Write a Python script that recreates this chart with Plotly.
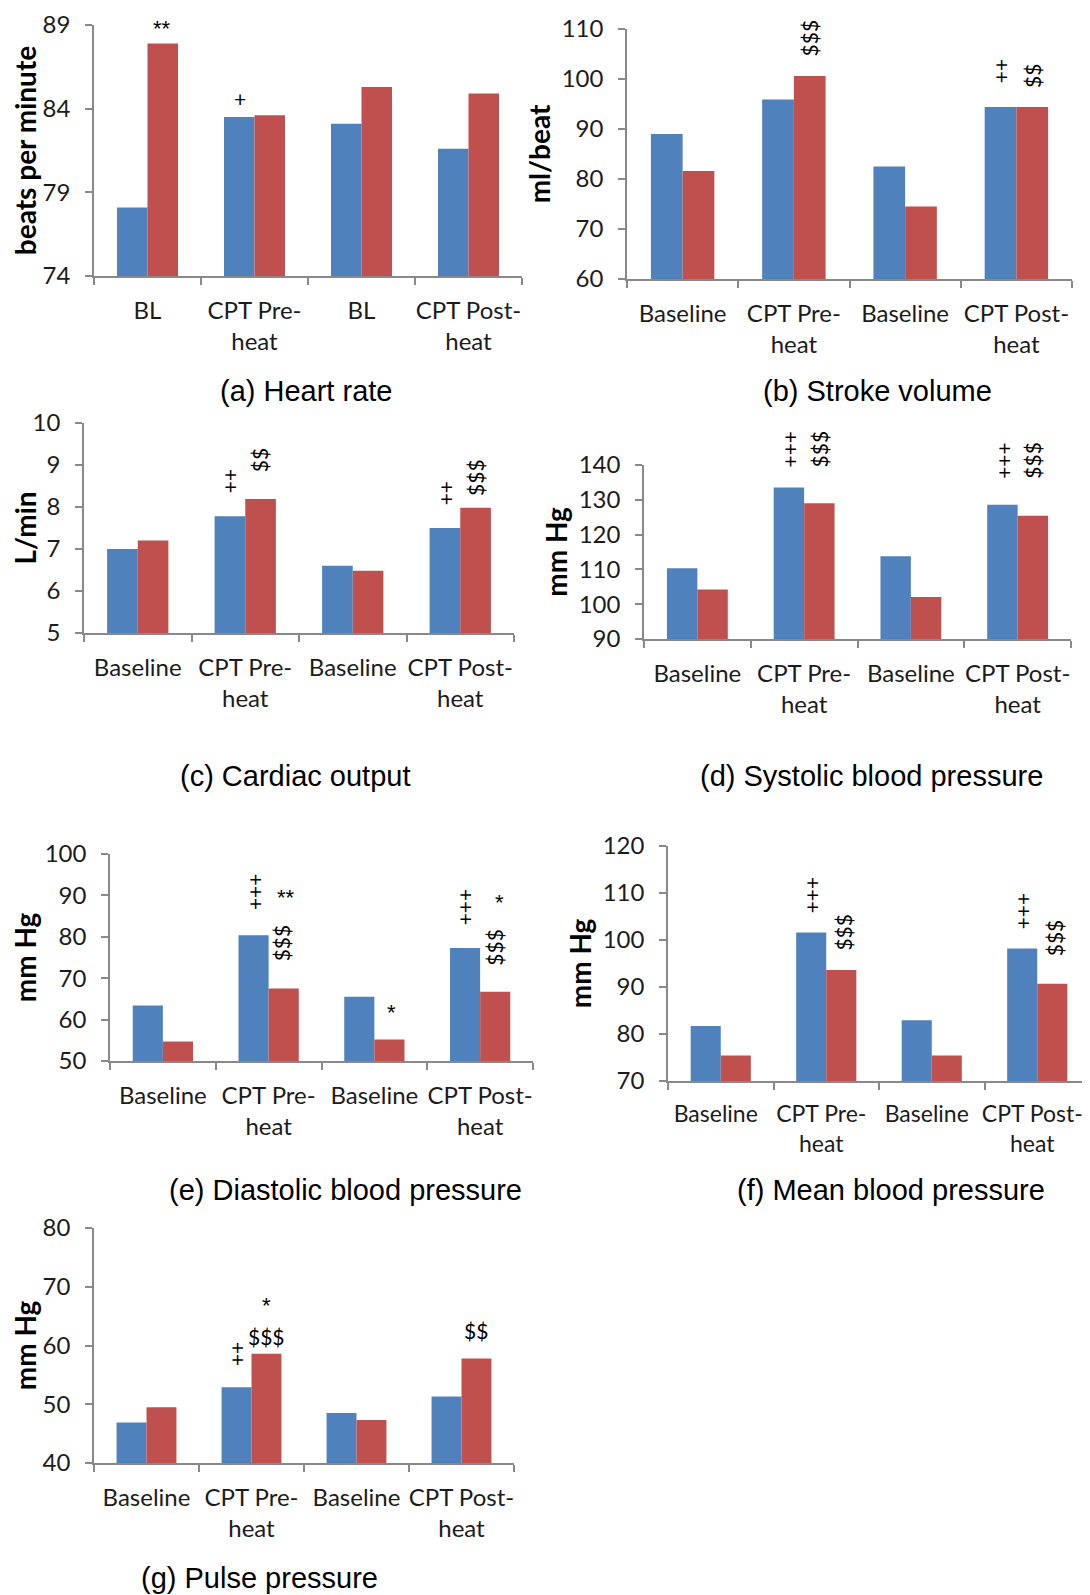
import plotly.graph_objects as go

# The page body has an 8px margin, so the figure is drawn 8px smaller and
# all layout pixel positions below are screen positions minus that offset.
OFF = 8
W, H = 1090 - OFF, 1595 - OFF

cats_bl = ["BL", "CPT Pre-<br>heat", "BL", "CPT Post-<br>heat"]
cats = ["Baseline", "CPT Pre-<br>heat", "Baseline", "CPT Post-<br>heat"]

hr_blue = [78.1, 83.5, 83.1, 81.6]
hr_red = [87.9, 83.6, 85.3, 84.9]
sv_blue = [89.0, 95.9, 82.5, 94.4]
sv_red = [81.6, 100.6, 74.5, 94.4]
co_blue = [7.0, 7.78, 6.6, 7.5]
co_red = [7.2, 8.19, 6.48, 7.98]
sbp_blue = [110.3, 133.5, 113.8, 128.6]
sbp_red = [104.2, 129.0, 102.1, 125.4]
dbp_blue = [63.4, 80.4, 65.5, 77.3]
dbp_red = [54.7, 67.5, 55.2, 66.7]
mbp_blue = [81.7, 101.6, 82.9, 98.2]
mbp_red = [75.4, 93.6, 75.4, 90.7]
pp_blue = [46.9, 52.9, 48.5, 51.3]
pp_red = [49.5, 58.6, 47.3, 57.8]

BLUE = "#4F81BD"
RED = "#C0504D"
AX = "#898989"
TXT = "#1c1c1c"
TF = "Lato, 'Open Sans', sans-serif"
CF = "'Liberation Sans', Arial, sans-serif"
SF = "'Liberation Sans', Arial, sans-serif"

# notes: (x position in category units, y value, text, angle, size)
panels = [
    (cats_bl, hr_blue, hr_red, [74, 89], 5, "beats per minute", "(a) Heart rate",
     [94, 522, 25, 276], (306, 391), 24, 0,
     [(0.14, 88.8, "**", 0, 22), (0.86, 84.6, "+", 0, 21)]),
    (cats, sv_blue, sv_red, [60, 110], 10, "ml/beat", "(b) Stroke volume",
     [627, 1072, 29, 279], (877, 391), 24, 0,
     [(1.14, 108.2, "$$$", -90, 21), (2.86, 101.5, "++", -90, 21), (3.14, 100.6, "$$", -90, 21)]),
    (cats, co_blue, co_red, [5, 10], 1, "L/min", "(c) Cardiac output",
     [84, 514, 423, 633], (295, 776), 24, 0,
     [(0.86, 8.62, "++", -90, 21), (1.14, 9.12, "$$", -90, 21),
      (2.86, 8.33, "++", -90, 21), (3.14, 8.7, "$$$", -90, 21)]),
    (cats, sbp_blue, sbp_red, [90, 140], 10, "mm Hg", "(d) Systolic blood pressure",
     [644, 1071, 465, 639], (871, 776), 24, 0,
     [(0.86, 144.5, "+++", -90, 21), (1.14, 144.5, "$$$", -90, 21),
      (2.86, 141.4, "+++", -90, 21), (3.14, 141.4, "$$$", -90, 21)]),
    (cats, dbp_blue, dbp_red, [50, 100], 10, "mm Hg", "(e) Diastolic blood pressure",
     [110, 533, 854, 1061], (345, 1190), 24, 0,
     [(0.86, 91.0, "+++", -90, 21), (1.16, 89.6, "**", 0, 22), (1.12, 78.5, "$$$", -90, 21),
      (2.16, 61.6, "*", 0, 22), (2.86, 87.2, "+++", -90, 21), (3.18, 88.4, "*", 0, 22),
      (3.14, 77.6, "$$$", -90, 21)]),
    (cats, mbp_blue, mbp_red, [70, 120], 10, "mm Hg", "(f) Mean blood pressure",
     [668, 1090, 846, 1081], (891, 1190), 23, -5,
     [(0.86, 109.6, "+++", -90, 21), (1.16, 101.6, "$$$", -90, 21),
      (2.86, 106.2, "+++", -90, 21), (3.16, 100.4, "$$$", -90, 21)]),
    (cats, pp_blue, pp_red, [40, 80], 10, "mm Hg", "(g) Pulse pressure",
     [94, 514, 1228, 1463], (259, 1578), 24, 0,
     [(0.86, 58.5, "++", -90, 21), (1.14, 66.8, "*", 0, 22), (1.14, 61.6, "$$$", 0, 21),
      (3.14, 62.6, "$$", 0, 21)]),
]

fig = go.Figure()
layout = dict(width=W, height=H, autosize=False, margin=dict(l=0, r=0, t=0, b=0, pad=0),
              paper_bgcolor="white", plot_bgcolor="white", showlegend=False,
              barmode="group", bargap=0.43, bargroupgap=0)
annotations = []
xpos = [0, 1, 2, 3]


def fx(px):
    return min(max((px - OFF) / W, 0), 1)


def fy(px):
    return min(max(1 - (px - OFF) / H, 0), 1)


for i, (labels, blue, red, yr, dt, ytitle, cap, box, cpos, xfs, xshift,
        notes) in enumerate(panels):
    n = "" if i == 0 else str(i + 1)
    xa, ya = "x" + n, "y" + n
    fig.add_trace(go.Bar(x=xpos, y=blue, marker=dict(color=BLUE, line=dict(width=0)),
                         xaxis=xa, yaxis=ya, offsetgroup="b"))
    fig.add_trace(go.Bar(x=xpos, y=red, marker=dict(color=RED, line=dict(width=0)),
                         xaxis=xa, yaxis=ya, offsetgroup="r"))
    x0, x1, y0, y1 = box
    layout["xaxis" + n] = dict(
        domain=[fx(x0), fx(x1)], anchor=ya, range=[-0.5, 3.5], tickmode="array",
        tickvals=xpos, ticktext=labels, ticks="", showline=True, linecolor=AX, linewidth=1.5,
        showgrid=False, zeroline=False, automargin=False,
        tickfont=dict(family=TF, size=xfs, color=TXT),
        ticklabelstandoff=12, ticklabelshift=xshift,
        minor=dict(tickmode="array", tickvals=[-0.5, 0.5, 1.5, 2.5, 3.5], ticks="outside",
                   ticklen=7, tickcolor=AX, tickwidth=1.5, showgrid=False))
    layout["yaxis" + n] = dict(
        domain=[fy(y1), fy(y0)], anchor=xa, range=yr, dtick=dt, tick0=yr[0],
        ticks="outside", ticklen=7, tickcolor=AX, tickwidth=1.5, showline=True, linecolor=AX,
        linewidth=1.5, showgrid=False, zeroline=False, automargin=False,
        tickfont=dict(family=TF, size=24, color=TXT), ticklabelstandoff=10,
        title=dict(text="<b>" + ytitle + "</b>", font=dict(family=TF, size=28, color="black"),
                   standoff=3))
    annotations.append(dict(text=cap, xref="paper", yref="paper", x=fx(cpos[0]),
                            y=fy(cpos[1]), showarrow=False, xanchor="center",
                            yanchor="middle", font=dict(family=CF, size=29, color="black")))
    for (nx, ny, t, ang, sz) in notes:
        if ny > yr[1]:
            # marks above the top of the value axis: place relative to the axis domain
            yref, yv = ya + " domain", (ny - yr[0]) / (yr[1] - yr[0])
        else:
            yref, yv = ya, ny
        annotations.append(dict(text=t, xref=xa, yref=yref, x=nx, y=yv, showarrow=False,
                                textangle=ang, xanchor="center", yanchor="middle",
                                font=dict(family=SF if "*" in t else TF, size=sz,
                                          color="black")))

layout["annotations"] = annotations
fig.update_layout(**layout)
fig.write_html("out.html")
